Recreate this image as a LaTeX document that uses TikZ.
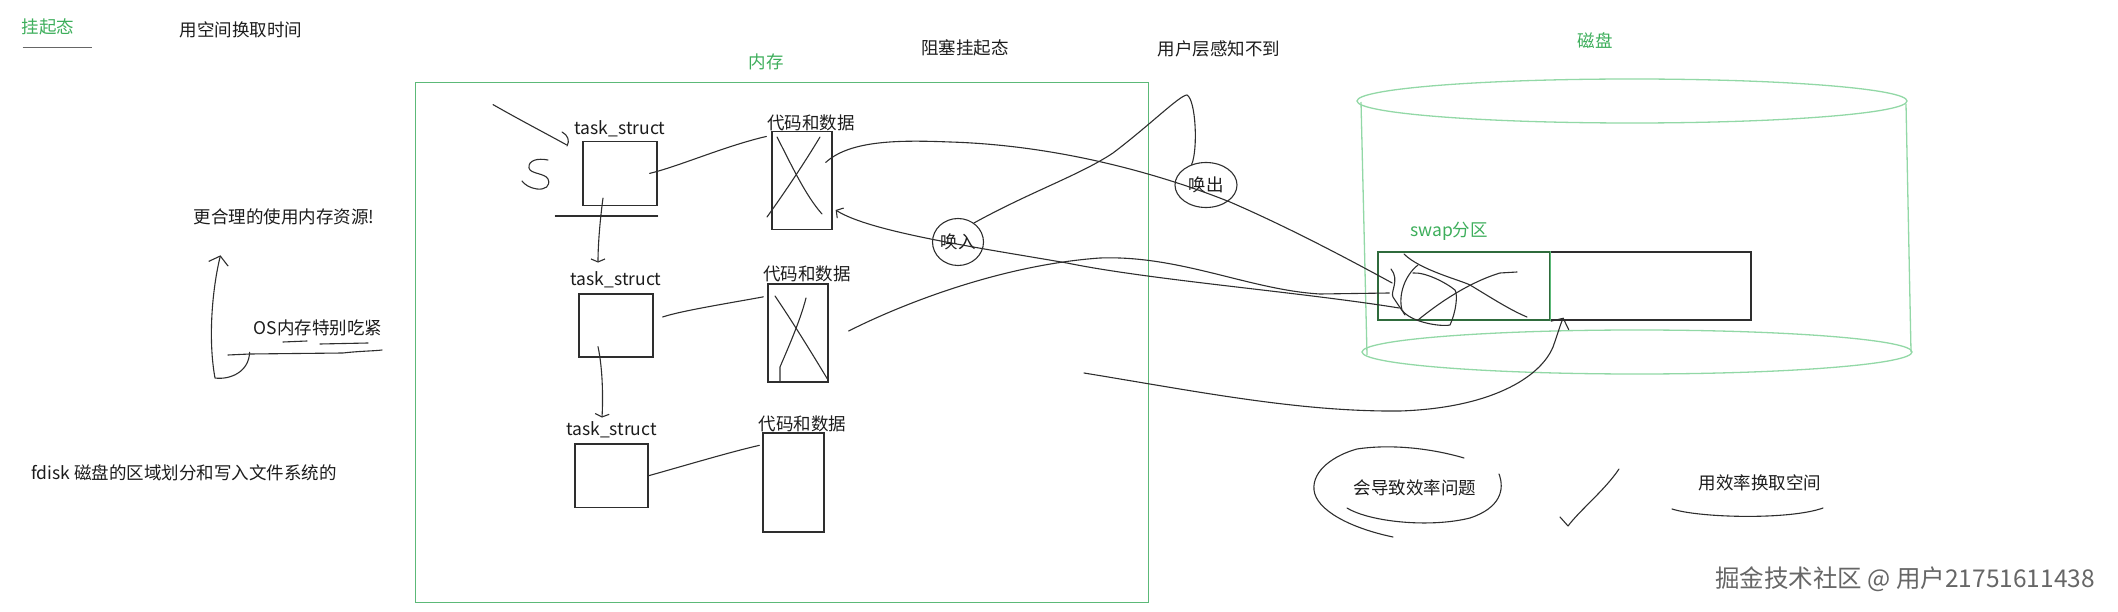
\documentclass[tikz,border=0pt]{standalone}
\usepackage{fontspec}
\setmainfont{Noto Sans CJK SC}
\usetikzlibrary{positioning, arrows.meta, shapes.geometric, calc}
\definecolor{ink}{HTML}{1C1C1C}
\definecolor{pen}{HTML}{2E2E2E}
\definecolor{grn}{HTML}{3DAE5B}
\definecolor{memg}{HTML}{5CB978}
\definecolor{diskg}{HTML}{92D8A6}
\definecolor{swapg}{HTML}{2F6B3C}
\definecolor{wmark}{HTML}{666666}
\tikzset{
  every node/.style = {font=\fontsize{17.5}{20}\selectfont, text=ink, inner sep=0pt},
  swgrn/.style   = {text=grn},
  swbox/.style   = {draw=pen, line width=1.3pt},
  swmem/.style   = {draw=memg, line width=1pt},
  swdisk/.style  = {draw=diskg, line width=1.3pt},
  swused/.style  = {draw=swapg, line width=1.6pt},
  swhand/.style  = {draw=pen, line width=1.1pt, line cap=round, line join=round},
  swdown/.style  = {swhand, -{Straight Barb[length=3pt,width=14pt]}},
  swback/.style  = {swhand, -{Straight Barb[length=5pt,width=12pt]}},
  swup/.style    = {swhand, -{Straight Barb[length=8pt,width=20pt]}},
  swloop/.style  = {ellipse, draw=pen, line width=1.1pt},
  swmark/.style  = {font=\fontsize{24.5}{28}\selectfont, text=wmark},
}

\begin{document}
\begin{tikzpicture}[x=1pt, y=-1pt]
\useasboundingbox (0,0) rectangle (2118,612);

\node[swgrn] (hang) at (48,27) {挂起态};
\draw[draw=wmark, line width=1pt] ($(hang.south west)+(1,12)$) -- ($(hang.south east)+(18,12)$);
\node (trade)  at (241,30)  {用空间换取时间};
\node (block)  at (965,48)  {阻塞挂起态};
\node (unseen) at (1219,49) {用户层感知不到};
\node[swgrn] (memlab)  at (766,62)  {内存};
\node[swgrn] (disklab) at (1595,41) {磁盘};

\node[swmem, minimum width=733pt, minimum height=519pt] (mem) at (781.5,342.5) {};

\node[swbox, minimum width=74pt, minimum height=64pt]   (ts1) at (620,173.4)   {};
\node[swbox, minimum width=74pt, minimum height=63pt]   (ts2) at (616,325.5)   {};
\node[swbox, minimum width=73pt, minimum height=63.5pt] (ts3) at (611.5,475.7) {};
\node[above=4pt of ts1] (ts1lab) {task\_struct};
\node[above=5pt of ts2] (ts2lab) {task\_struct};
\node[above=5pt of ts3] (ts3lab) {task\_struct};

\node[swbox, minimum width=60pt, minimum height=98pt] (cd1) at (802,180.5)   {};
\node[swbox, minimum width=60pt, minimum height=98pt] (cd2) at (798,333)     {};
\node[swbox, minimum width=61pt, minimum height=99pt] (cd3) at (793.5,482.5) {};
\node[above=0pt of cd1, xshift=9pt] (cd1lab) {代码和数据};
\node[above=1pt of cd2, xshift=9pt] (cd2lab) {代码和数据};
\node[above=0pt of cd3, xshift=9pt] (cd3lab) {代码和数据};

\draw[swhand] ($(ts1.east)+(-8,0)$) .. controls (680,166) and (725,146) .. ($(cd1.north west)+(-5,5.6)$);
\draw[swhand] ($(ts2.east)+(9,-8.5)$) .. controls (680,311) and (730,303) .. ($(cd2.north west)+(-4,13.5)$);
\draw[swhand] (ts3.east) .. controls (680,467) and (730,452) .. ($(cd3.north west)+(-3,13)$);

\draw[swdown] ($(ts1.south)+(-17,-8)$) .. controls (600,220) and (598,245) .. ($(ts2lab.north)+(-18,-9)$);
\draw[swdown] ($(ts2.south)+(-18,-11)$) .. controls (603,370) and (603,400) .. ($(ts3lab.north)+(-9.5,-4)$);
\draw[swhand] ($(ts1.south west)+(-27,10)$) -- ($(ts1.south east)+(0,10)$);

\coordinate (nudge) at (493,104.6);
\draw[swhand] (nudge) .. controls (520,120) and (545,133) .. ($(ts1.north west)+(-16,4)$);
\draw[swhand] (562,132) .. controls (568,135) and (570,141) .. (567,146);
\draw[swhand] (548,160) .. controls (538,158) and (528,160) .. (529,168)
  .. controls (530,174) and (545,173) .. (548,179)
  .. controls (551,186) and (545,190) .. (537,189)
  .. controls (530,188) and (525,185) .. (522,181);

\draw[swhand] (777,137) .. controls (790,162) and (805,195) .. (822,214);
\draw[swhand] (820,137) .. controls (805,162) and (785,192) .. (767,217);
\draw[swhand] (775,296) .. controls (790,318) and (810,350) .. (828,380);
\draw[swhand] (806,298) .. controls (800,322) and (785,355) .. (780,367) -- (780,381);

\draw[swdisk] (1632,101) ellipse [x radius=275, y radius=22];
\draw[swdisk] (1637,352) ellipse [x radius=275, y radius=22];
\draw[swdisk] (1361,102) -- (1367,355);
\draw[swdisk] (1906,104) -- (1911,352);

\node[swbox, minimum width=373pt, minimum height=68pt] (part) at (1564.5,286) {};
\node[swused, minimum width=172pt, minimum height=68pt] (partused) at (1464,286) {};
\draw[draw=memg, line width=1pt] (partused.north east) -- (partused.south east);
\node[swgrn, above=10pt of partused, xshift=-15pt] (partlab) {swap分区};

\node[swloop, minimum width=51pt, minimum height=47pt] (swapin)  at (958,242)  {唤入};
\node[swloop, minimum width=62pt, minimum height=45pt] (swapout) at (1206,185) {唤出};

\draw[swhand] ($(cd1.east)+(-7,-18)$) .. controls (850,140) and (900,140) .. (950,142)
  .. controls (1050,145) and (1150,170) .. (1230,202)
  .. controls (1290,228) and (1350,260) .. ($(partused.west)+(15,-3)$);
\draw[swback] ($(partused.west)+(22,22)$) .. controls (1300,292) and (1150,280) .. (1067,263)
  .. controls (980,248) and (870,232) .. ($(cd1.east)+(3,29.5)$);
\draw[swhand] ($(cd2.east)+(20,-2)$) .. controls (900,305) and (1000,265) .. (1100,258)
  .. controls (1180,255) and (1250,290) .. (1320,294) -- ($(partused.west)+(12,7)$);
\draw[swhand] (swapin.50) .. controls (1030,192) and (1080,175) .. (1113,153)
  .. controls (1150,125) and (1180,95) .. (1187,95)
  .. controls (1196,100) and (1198,150) .. (swapout.125);

\coordinate (low) at (1084,373);
\draw[swup] (low) .. controls (1200,392) and (1300,412) .. (1400,411)
  .. controls (1490,408) and (1540,378) .. (1553,347)
  .. controls (1558,333) and (1560,325) .. ($(part.south)+(-1,-3)$);

\draw[swhand] (1418,265) .. controls (1405,275) and (1398,295) .. (1402,310)
  .. controls (1410,322) and (1440,327) .. (1450,325)
  .. controls (1456,312) and (1458,295) .. (1455,290)
  .. controls (1445,282) and (1425,272) .. (1413,273);
\draw[swhand] (1404,254) .. controls (1420,270) and (1460,280) .. (1470,285)
  .. controls (1490,297) and (1510,310) .. (1527,317);
\draw[swhand] (1418,320) .. controls (1440,302) and (1470,282) .. (1500,273) -- (1517,272);
\draw[swhand] (1391,269) .. controls (1400,280) and (1390,292) .. (1393,297)
  .. controls (1398,305) and (1402,310) .. (1405,315);

\node (better) at (284,217) {更合理的使用内存资源!};
\node (tight)  at (318,328) {OS内存特别吃紧};
\draw[swhand] (283,342) -- (307,341);
\draw[swhand] (320,344) -- (368,343);
\draw[swhand] (228,355) -- (250,354) -- (343,353) .. controls (360,351) and (375,351) .. (382,350);
\draw[swup] ($(tight.south west)+(-4,16)$) .. controls (249,372) and (230,380) .. (215,378)
  .. controls (208,340) and (212,290) .. ($(better.south west)+(27,30)$);
\node (fdisk) at (184,473) {fdisk 磁盘的区域划分和写入文件系统的};

\node (cost) at (1415,488) {会导致效率问题};
\draw[swhand] (1464,458) .. controls (1430,448) and (1390,444) .. (1357,449)
  .. controls (1335,455) and (1312,470) .. (1314,490)
  .. controls (1316,510) and (1350,528) .. (1393,537);
\draw[swhand] (1347,508) .. controls (1370,522) and (1430,528) .. (1470,518)
  .. controls (1500,508) and (1505,490) .. (1499,474);
\draw[swhand] (1560,517) -- (1568,526) .. controls (1580,510) and (1605,490) .. (1619,469);
\node (gain) at (1760,483) {用效率换取空间};
\draw[swhand] (1672,509) .. controls (1700,518) and (1790,520) .. (1823,508);

\node[swmark] (mark) at (1905,579) {掘金技术社区 @ 用户21751611438};
\end{tikzpicture}
\end{document}
